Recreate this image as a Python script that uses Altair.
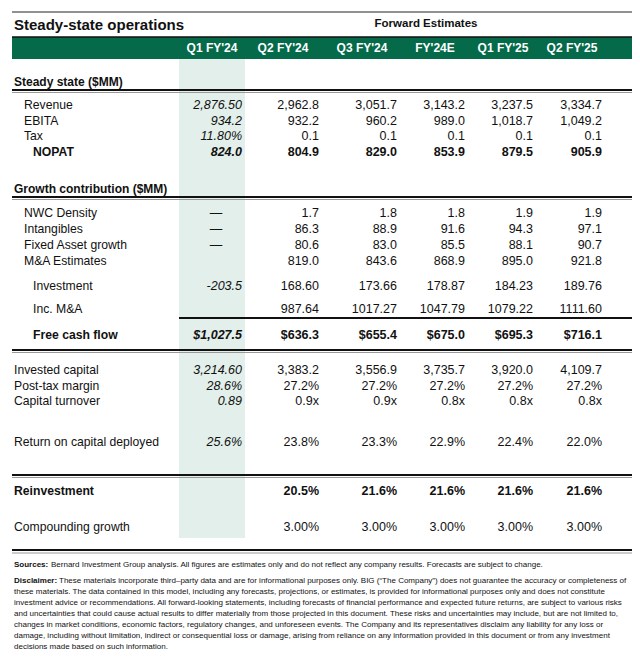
import altair as alt
import pandas as pd

# ---------------- data ----------------
TITLE = "Steady-state operations"
SUPER_HEADER = "Forward Estimates"
periods = ["Q1 FY'24", "Q2 FY'24", "Q3 FY'24", "FY'24E", "Q1 FY'25", "Q2 FY'25"]
sections = ["Steady state ($MM)", "Growth contribution ($MM)"]
row_labels = ["Revenue", "EBITA", "Tax", "NOPAT", "NWC Density", "Intangibles",
              "Fixed Asset growth", "M&A Estimates", "Investment", "Inc. M&A",
              "Free cash flow", "Invested capital", "Post-tax margin", "Capital turnover",
              "Return on capital deployed", "Reinvestment", "Compounding growth"]
q1_fy24 = ["2,876.50", "934.2", "11.80%", "824.0", "—", "—", "—", "", "-203.5", "",
           "$1,027.5", "3,214.60", "28.6%", "0.89", "25.6%", "", ""]
q2_fy24 = ["2,962.8", "932.2", "0.1", "804.9", "1.7", "86.3", "80.6", "819.0", "168.60", "987.64",
           "$636.3", "3,383.2", "27.2%", "0.9x", "23.8%", "20.5%", "3.00%"]
q3_fy24 = ["3,051.7", "960.2", "0.1", "829.0", "1.8", "88.9", "83.0", "843.6", "173.66", "1017.27",
           "$655.4", "3,556.9", "27.2%", "0.9x", "23.3%", "21.6%", "3.00%"]
fy24e = ["3,143.2", "989.0", "0.1", "853.9", "1.8", "91.6", "85.5", "868.9", "178.87", "1047.79",
         "$675.0", "3,735.7", "27.2%", "0.8x", "22.9%", "21.6%", "3.00%"]
q1_fy25 = ["3,237.5", "1,018.7", "0.1", "879.5", "1.9", "94.3", "88.1", "895.0", "184.23", "1079.22",
           "$695.3", "3,920.0", "27.2%", "0.8x", "22.4%", "21.6%", "3.00%"]
q2_fy25 = ["3,334.7", "1,049.2", "0.1", "905.9", "1.9", "97.1", "90.7", "921.8", "189.76", "1111.60",
           "$716.1", "4,109.7", "27.2%", "0.8x", "22.0%", "21.6%", "3.00%"]
bold_rows = ["NOPAT", "Free cash flow", "Reinvestment"]
footer_prefix = ["Sources:", "Disclaimer:"]
footer_lines = [
    "Bernard Investment Group analysis. All figures are estimates only and do not reflect any company results. Forecasts are subject to change.",
    "These materials incorporate third\u2013party data and are for informational purposes only. BIG (\u201cThe Company\u201d) does not guarantee the accuracy or completeness of",
    "these materials. The data contained in this model, including any forecasts, projections, or estimates, is provided for informational purposes only and does not constitute",
    "investment advice or recommendations. All forward-looking statements, including forecasts of financial performance and expected future returns, are subject to various risks",
    "and uncertainties that could cause actual results to differ materially from those projected in this document. These risks and uncertainties may include, but are not limited to,",
    "changes in market conditions, economic factors, regulatory changes, and unforeseen events. The Company and its representatives disclaim any liability for any loss or",
    "damage, including without limitation, indirect or consequential loss or damage, arising from reliance on any information provided in this document or from any investment",
    "decisions made based on such information.",
]

# ---------------- layout (page pixel grid) ----------------
W, H = 624, 649
X0, Y0 = 8, 8
FONT = "Liberation Sans"
GREEN = "#046A4A"
SHADE = "#E2EFEA"
row_y = [105, 121, 136, 152, 213, 229, 245, 261, 286, 309, 335, 370, 386, 401, 442, 491, 527]
row_x = [24, 24, 24, 33, 24, 24, 24, 24, 33, 33, 33, 14, 14, 14, 14, 14, 14]
section_y = [82, 189]
col_right = [242, 319, 397, 465, 533, 602]
head_center = [212, 283, 362, 435, 503, 572]
dash_center = 216
footer_y = [565, 581, 592, 603, 614, 625, 636, 647]
footer_x = [51, 59]

xs = alt.Scale(domain=[X0, X0 + W], nice=False, zero=False)
ys = alt.Scale(domain=[Y0, Y0 + H], nice=False, zero=False, reverse=True)


def txt(df, size, bold=False, italic=False, align="left", color="#111111"):
    kw = dict(font=FONT, fontSize=size, align=align, baseline="middle", color=color)
    if bold:
        kw["fontWeight"] = "bold"
    if italic:
        kw["fontStyle"] = "italic"
    return alt.Chart(df).mark_text(**kw).encode(
        x=alt.X("x:Q", scale=xs, axis=None),
        y=alt.Y("y:Q", scale=ys, axis=None),
        text="t:N",
    )


# rectangles
rects = pd.DataFrame({
    "x": [12, 179], "x2": [X0 + W, 245], "y": [37, 59], "y2": [59, 538], "c": [GREEN, SHADE]})
rect_layer = alt.Chart(rects).mark_rect().encode(
    x=alt.X("x:Q", scale=xs, axis=None), x2="x2:Q",
    y=alt.Y("y:Q", scale=ys, axis=None), y2="y2:Q",
    color=alt.Color("c:N", scale=None))

# rules
rules = pd.DataFrame({
    "x": [12, 12, 12, 12, 12, 12, 179, 12, 12, 12, 12, 12, 12],
    "x2": [X0 + W] * 13,
    "y": [12, 37, 90, 92.5, 197, 199.5, 318, 350, 352.5, 475, 477.5, 550, 553],
    "w": [1, 1.5, 2, 1, 2, 1, 2, 2, 1, 2, 1, 2, 1],
    "c": ["#222", "#111", "#111", "#999", "#111", "#999", "#111", "#111", "#999", "#111", "#999", "#111", "#999"],
})
rule_layer = alt.Chart(rules).mark_rule().encode(
    x=alt.X("x:Q", scale=xs, axis=None), x2="x2:Q",
    y=alt.Y("y:Q", scale=ys, axis=None),
    strokeWidth=alt.StrokeWidth("w:Q", scale=None),
    color=alt.Color("c:N", scale=None))

# texts
title_df = pd.DataFrame({"x": [14], "y": [25], "t": [TITLE]})
super_df = pd.DataFrame({"x": [426], "y": [24], "t": [SUPER_HEADER]})
head_df = pd.DataFrame({"x": head_center, "y": [48] * 6, "t": periods})
sec_df = pd.DataFrame({"x": [14, 14], "y": section_y, "t": sections})

lab_norm = [(row_x[i], row_y[i], l) for i, l in enumerate(row_labels) if l not in bold_rows]
lab_bold = [(row_x[i], row_y[i], l) for i, l in enumerate(row_labels) if l in bold_rows]
lab_norm_df = pd.DataFrame(lab_norm, columns=["x", "y", "t"])
lab_bold_df = pd.DataFrame(lab_bold, columns=["x", "y", "t"])

other_cols = [q2_fy24, q3_fy24, fy24e, q1_fy25, q2_fy25]
v_norm, v_bold = [], []
for ci, col in enumerate(other_cols):
    for ri, v in enumerate(col):
        rec = (col_right[ci + 1], row_y[ri], v)
        (v_bold if row_labels[ri] in bold_rows else v_norm).append(rec)
v_norm_df = pd.DataFrame(v_norm, columns=["x", "y", "t"])
v_bold_df = pd.DataFrame(v_bold, columns=["x", "y", "t"])

q1_it, q1_bi, q1_dash = [], [], []
for ri, v in enumerate(q1_fy24):
    if v == "":
        continue
    if v == "—":
        q1_dash.append((dash_center, row_y[ri], v))
    elif row_labels[ri] in bold_rows:
        q1_bi.append((col_right[0], row_y[ri], v))
    else:
        q1_it.append((col_right[0], row_y[ri], v))
q1_it_df = pd.DataFrame(q1_it, columns=["x", "y", "t"])
q1_bi_df = pd.DataFrame(q1_bi, columns=["x", "y", "t"])
q1_dash_df = pd.DataFrame(q1_dash, columns=["x", "y", "t"])

fp_df = pd.DataFrame({"x": [14, 14], "y": footer_y[:2], "t": footer_prefix})
fl_df = pd.DataFrame({"x": footer_x + [14] * (len(footer_lines) - 2), "y": footer_y, "t": footer_lines})

chart = alt.layer(
    rect_layer,
    rule_layer,
    txt(title_df, 15, bold=True),
    txt(super_df, 11.5, bold=True, align="center"),
    txt(head_df, 12, bold=True, align="center", color="white"),
    txt(sec_df, 12, bold=True),
    txt(lab_norm_df, 12.2),
    txt(lab_bold_df, 12.2, bold=True),
    txt(v_norm_df, 12.5, align="right"),
    txt(v_bold_df, 12.5, bold=True, align="right"),
    txt(q1_it_df, 12.5, italic=True, align="right"),
    txt(q1_bi_df, 12.5, bold=True, italic=True, align="right"),
    txt(q1_dash_df, 12.5, align="center"),
    txt(fp_df, 8, bold=True),
    txt(fl_df, 8),
).properties(
    width=W, height=H, padding=0, autosize=alt.AutoSizeParams(type="none")
).configure(background="white", view=alt.ViewConfig(stroke=None))

chart.save("out.html", embed_options={"renderer": "svg", "actions": False})
